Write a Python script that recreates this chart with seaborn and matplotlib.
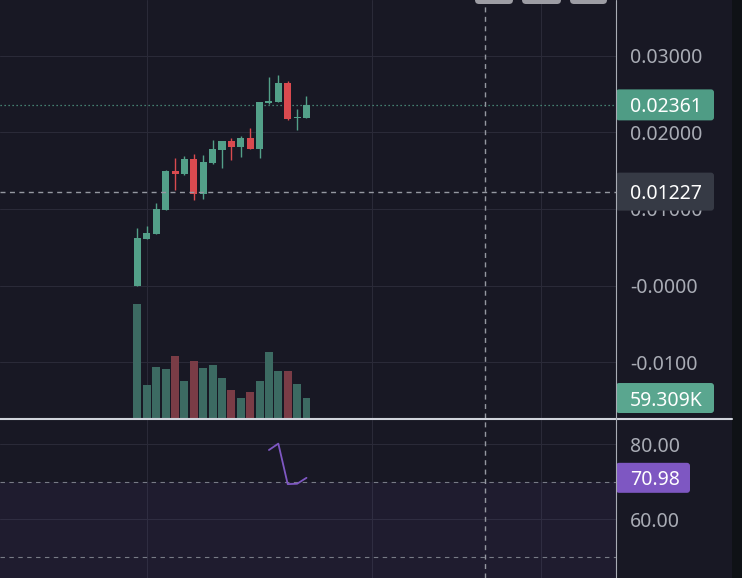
"""
Candlestick chart with volume overlay and RSI pane, TradingView dark look.
"""
import numpy as np
import pandas as pd
import seaborn as sns
import matplotlib.pyplot as plt
import matplotlib.transforms as mtransforms
from matplotlib.patches import FancyBboxPatch, Rectangle
from matplotlib.lines import Line2D

# --- values ---
opens = [0.00000, 0.00608, 0.00673, 0.00987, 0.01497, 0.01458, 0.01654, 0.01196, 0.01601, 0.01771,
         0.01889, 0.01810, 0.01928, 0.01784, 0.02386, 0.02399, 0.02647, 0.02189, 0.02196]
closes = [0.00621, 0.00686, 0.01000, 0.01497, 0.01458, 0.01654, 0.01196, 0.01614, 0.01784, 0.01889,
          0.01810, 0.01928, 0.01784, 0.02399, 0.02412, 0.02647, 0.02176, 0.02200, 0.02361]
highs = [0.00752, 0.00778, 0.01078, 0.01514, 0.01667, 0.01693, 0.01719, 0.01706, 0.01902, 0.01889,
         0.01928, 0.01954, 0.02059, 0.02399, 0.02725, 0.02752, 0.02673, 0.02307, 0.02477]
lows = [0.00000, 0.00608, 0.00673, 0.00987, 0.01248, 0.01444, 0.01118, 0.01131, 0.01588, 0.01536,
        0.01641, 0.01680, 0.01784, 0.01667, 0.02373, 0.02399, 0.02163, 0.02033, 0.02196]
volumes = [338000, 98000, 151000, 145000, 184000, 110000, 169000, 148000, 157000, 119000,
           83000, 59000, 77000, 110000, 196000, 139000, 139000, 101000, 59309]
rsi_start = 14
rsi_values = [78.4, 80.1, 69.3, 69.4, 70.98]

price_ticks = [0.03, 0.02, 0.01, 0.0, -0.01]
price_tick_labels = ["0.03000", "0.02000", "0.01000", "-0.0000", "-0.0100"]
rsi_ticks = [80, 60]
rsi_tick_labels = ["80.00", "60.00"]
time_grid = [1, 25, 43]
crosshair_x = 37
crosshair_price = 0.01227
last_price = 0.02361

# --- colours ---
BG = "#181824"
GRID = "#2a2a38"
UP, DOWN = "#53a089", "#d94a4f"
VOL_UP, VOL_DOWN = "#3c6a62", "#7a3c46"
RSI_COLOR = "#7e57c2"
TEXT = "#a9acb5"
FS = 14

df = pd.DataFrame({"idx": np.arange(len(opens)), "open": opens, "close": closes,
                   "high": highs, "low": lows, "volume": volumes})
df["dir"] = np.where(df["close"] >= df["open"], "up", "down")
rsi = pd.DataFrame({"idx": np.arange(rsi_start, rsi_start + len(rsi_values)), "rsi": rsi_values})

sns.set_theme(style="darkgrid", rc={
    "axes.facecolor": BG, "figure.facecolor": BG, "grid.color": GRID,
    "grid.linewidth": 0.75, "axes.edgecolor": BG, "patch.edgecolor": "none",
})
plt.rcParams["font.family"] = ["Noto Sans", "DejaVu Sans"]

W, H = 742, 578
fig = plt.figure(figsize=(W / 100, H / 100), dpi=100)


def px_rect(x0, y0, x1, y1):
    return [x0 / W, 1 - y1 / H, (x1 - x0) / W, (y1 - y0) / H]


ax = fig.add_axes(px_rect(0, 0, 616, 418))
vax = fig.add_axes(px_rect(0, 0, 616, 418))
rax = fig.add_axes(px_rect(0, 420, 616, 578))

xlim = (-14.64, 50.96)

# candles
cols = df["dir"].map({"up": UP, "down": DOWN})
ax.vlines(df["idx"], df["low"], df["high"], colors=cols, lw=1, zorder=3)
body = (df["close"] - df["open"]).abs().clip(lower=0.00008)
ax.bar(df["idx"], body, bottom=df[["open", "close"]].min(axis=1), width=0.75,
       color=cols, edgecolor="none", linewidth=0, zorder=4)

ax.axhline(last_price, color=UP, lw=0.9, ls=(0, (1, 2.2)), zorder=2)
ax.axhline(crosshair_price, color="#9598a1", lw=1, ls=(0, (3.6, 3.2)), zorder=5)

# volume overlay
sns.barplot(data=df, x="idx", y="volume", hue="dir", palette={"up": VOL_UP, "down": VOL_DOWN},
            native_scale=True, dodge=False, width=0.85, saturation=1, legend=False,
            edgecolor="none", linewidth=0, ax=vax)
vax.set_xlim(*xlim)
vax.set_ylim(0, 1.24e6)
vax.set_facecolor("none")
vax.axis("off")

# RSI pane
rax.axhspan(30, 70, color=RSI_COLOR, alpha=0.07, lw=0)
for lvl in (70, 50):
    rax.axhline(lvl, color="#787b86", lw=0.8, ls=(0, (4, 4)))
sns.lineplot(data=rsi, x="idx", y="rsi", color=RSI_COLOR, lw=1.3, ax=rax)

for a in (ax, rax):
    a.set_xlim(*xlim)
    a.set_xticks(time_grid)
    a.tick_params(axis="x", labelbottom=False, length=0)
    a.axvline(crosshair_x, color="#9598a1", lw=1, ls=(0, (3.6, 3.2)), zorder=5)
    a.yaxis.tick_right()
    a.tick_params(axis="y", length=0, pad=10, labelsize=FS, labelcolor=TEXT)
    a.set_xlabel("")
    a.set_ylabel("")
    for s in a.spines.values():
        s.set_visible(False)

ax.set_ylim(-0.01732, 0.03732)
ax.set_yticks(price_ticks)
ax.set_yticklabels(price_tick_labels)
rax.set_ylim(44.27, 86.4)
rax.set_yticks(rsi_ticks)
rax.set_yticklabels(rsi_tick_labels)


def price_tag(a, value, label, face, width_px, height_px=31):
    anchor = mtransforms.ScaledTranslation(1.0, value, a.get_yaxis_transform())
    tr = mtransforms.Affine2D() + anchor
    box = FancyBboxPatch((0, -height_px / 2), width_px, height_px,
                         boxstyle="round,pad=0,rounding_size=3", transform=tr,
                         fc=face, ec="none", clip_on=False, zorder=8)
    a.add_artist(box)
    a.text(14, 0, label, transform=tr, color="white", fontsize=FS, fontweight="semibold",
           va="center_baseline", ha="left", zorder=9, clip_on=False)


price_tag(ax, last_price, f"{last_price:.5f}", "#4f9c85", 98)
price_tag(ax, crosshair_price, f"{crosshair_price:.5f}", "#363a45", 98, 38)
price_tag(vax, volumes[-1], f"{volumes[-1] / 1000:.3f}K", "#5aa68f", 98, 30)
price_tag(rax, rsi_values[-1], f"{rsi_values[-1]:.2f}", RSI_COLOR, 74, 30)

# frame pieces: pane separator, price-scale border, right strip, toolbar buttons
fig.add_artist(Line2D([0, 732 / W], [1 - 419 / H] * 2, transform=fig.transFigure,
                      color="#d1d4dc", lw=1.5))
fig.add_artist(Line2D([616 / W] * 2, [0, 1], transform=fig.transFigure,
                      color="#a9acb5", lw=0.8))
fig.add_artist(Rectangle((732 / W, 0), 10 / W, 1, transform=fig.transFigure,
                         fc="#0f1216", ec="none"))
for x0, x1 in [(475, 513), (522, 561), (570, 607)]:
    fig.add_artist(FancyBboxPatch((x0, H - 4), x1 - x0, 20, boxstyle="round,pad=0,rounding_size=4",
                                  transform=mtransforms.IdentityTransform(),
                                  fc="#9d9da4", ec="none"))

plt.savefig("out.png", dpi=100)
